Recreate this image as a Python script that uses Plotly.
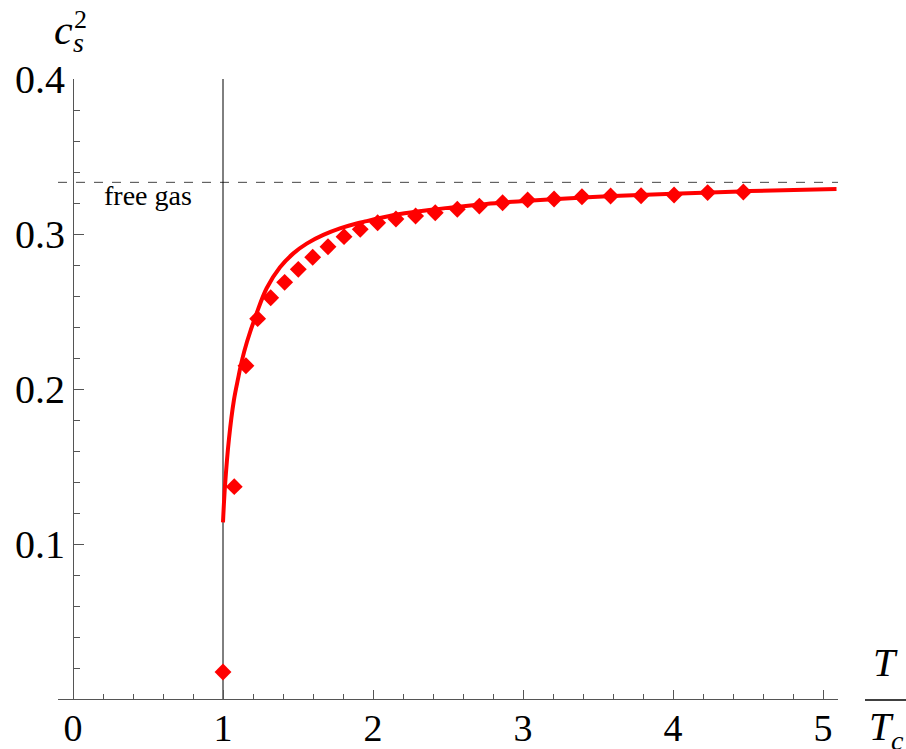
import plotly.graph_objects as go

# Solid curve
curve_x = [1.0, 1.013, 1.04, 1.073, 1.1, 1.124, 1.16, 1.224, 1.291, 1.38, 1.469, 1.558, 1.669,
           1.78, 1.891, 1.958, 2.07, 2.18, 2.35, 2.513, 2.68, 2.847, 3.2, 3.6, 4.0, 4.513, 5.09]
curve_y = [0.114, 0.137, 0.168, 0.193, 0.2065, 0.2175, 0.2305, 0.2488, 0.2650, 0.2785, 0.2875,
           0.2938, 0.2994, 0.3036, 0.3068, 0.3083, 0.3108, 0.3129, 0.3152, 0.317, 0.3187, 0.3202,
           0.3225, 0.3245, 0.326, 0.3277, 0.329]

# Diamond data points
pts_x = [1.0, 1.075, 1.153, 1.231, 1.318, 1.411, 1.502, 1.598, 1.70, 1.807, 1.915, 2.031,
         2.153, 2.284, 2.415, 2.562, 2.709, 2.864, 3.031, 3.207, 3.393, 3.584, 3.787, 4.007,
         4.231, 4.469]
pts_y = [0.0174, 0.137, 0.215, 0.2454, 0.2589, 0.2688, 0.2772, 0.285, 0.2918, 0.2983, 0.303, 0.3073,
         0.3097, 0.3116, 0.3137, 0.316, 0.318, 0.3202, 0.322, 0.3226, 0.324, 0.3245, 0.3247, 0.3252,
         0.3267, 0.3271]

free_gas = 1.0 / 3.0
x_ticks = [0, 1, 2, 3, 4, 5]
y_ticks = [0.1, 0.2, 0.3, 0.4]
y_tick_text = ["0.1", "0.2", "0.3", "0.4"]

SERIF = "Liberation Serif"
AX = "#555555"

fig = go.Figure()
fig.add_trace(go.Scatter(x=curve_x, y=curve_y, mode="lines",
                         line=dict(color="#ff0000", width=4, shape="spline", smoothing=1.0),
                         hoverinfo="skip", showlegend=False, cliponaxis=False))
fig.add_trace(go.Scatter(x=pts_x, y=pts_y, mode="markers",
                         marker=dict(symbol="diamond", size=13, color="#ff0000", line=dict(width=0)),
                         showlegend=False, cliponaxis=False))

# free gas dashed line and Tc vertical line
fig.add_shape(type="line", xref="x", yref="y", x0=-0.1, x1=5.1, y0=free_gas, y1=free_gas,
              line=dict(color="#444444", width=1, dash="dash"), layer="below")
fig.add_shape(type="line", xref="x", yref="y", x0=1, x1=1, y0=0, y1=0.4,
              line=dict(color="black", width=1), layer="below")

L, R, T, B = 58, 68, 79, 50
W, H = 906, 749
pw, ph = W - L - R, H - T - B


def px(x):
    return (x - L) / pw


def py(y):
    return (H - B - y) / ph


def label(xp, yp, text, size):
    return dict(x=px(xp), y=py(yp), xref="paper", yref="paper", text=text, showarrow=False,
                xanchor="center", yanchor="middle",
                font=dict(family=SERIF, size=size, color="black"))


ann = [
    label(148, 195, "free gas", 28),
    # c_s^2
    label(63, 30, "<i>c</i>", 42),
    label(78, 43, "<i>s</i>", 28),
    label(80, 20, "2", 26),
    # T / T_c
    label(885, 662, "<i>T</i>", 40),
    label(881, 726, "<i>T</i>", 40),
    label(897, 740, "<i>c</i>", 28),
]
fig.add_shape(type="line", xref="paper", yref="paper", x0=px(865), x1=px(906), y0=py(700), y1=py(700),
              line=dict(color="black", width=1.5))

fig.update_layout(
    width=W, height=H,
    margin=dict(l=L, r=R, t=T, b=B, autoexpand=False),
    paper_bgcolor="white", plot_bgcolor="white",
    annotations=ann,
    xaxis=dict(range=[-0.1, 5.1], showgrid=False, zeroline=False, automargin=False,
               showline=True, linecolor=AX, linewidth=1,
               tickmode="array", tickvals=x_ticks, ticktext=[str(v) for v in x_ticks],
               ticks="inside", ticklen=9, tickcolor=AX, tickwidth=1,
               minor=dict(ticks="inside", ticklen=5, tickcolor=AX, dtick=0.2, tick0=0, showgrid=False),
               tickfont=dict(family=SERIF, size=38, color="black"), ticklabelstandoff=-5),
    yaxis=dict(range=[0, 0.4], showgrid=False, zeroline=False, automargin=False,
               anchor="free", position=0.1 / 5.2,
               showline=True, linecolor=AX, linewidth=1,
               tickmode="array", tickvals=y_ticks, ticktext=y_tick_text,
               ticks="inside", ticklen=10, tickcolor=AX, tickwidth=1,
               minor=dict(ticks="inside", ticklen=6, tickcolor=AX, dtick=0.02, tick0=0, showgrid=False),
               tickfont=dict(family=SERIF, size=40, color="black")),
)

fig.write_html("out.html", config={"displayModeBar": False},
               post_script="document.body.style.margin='0';document.body.style.overflow='hidden';")
